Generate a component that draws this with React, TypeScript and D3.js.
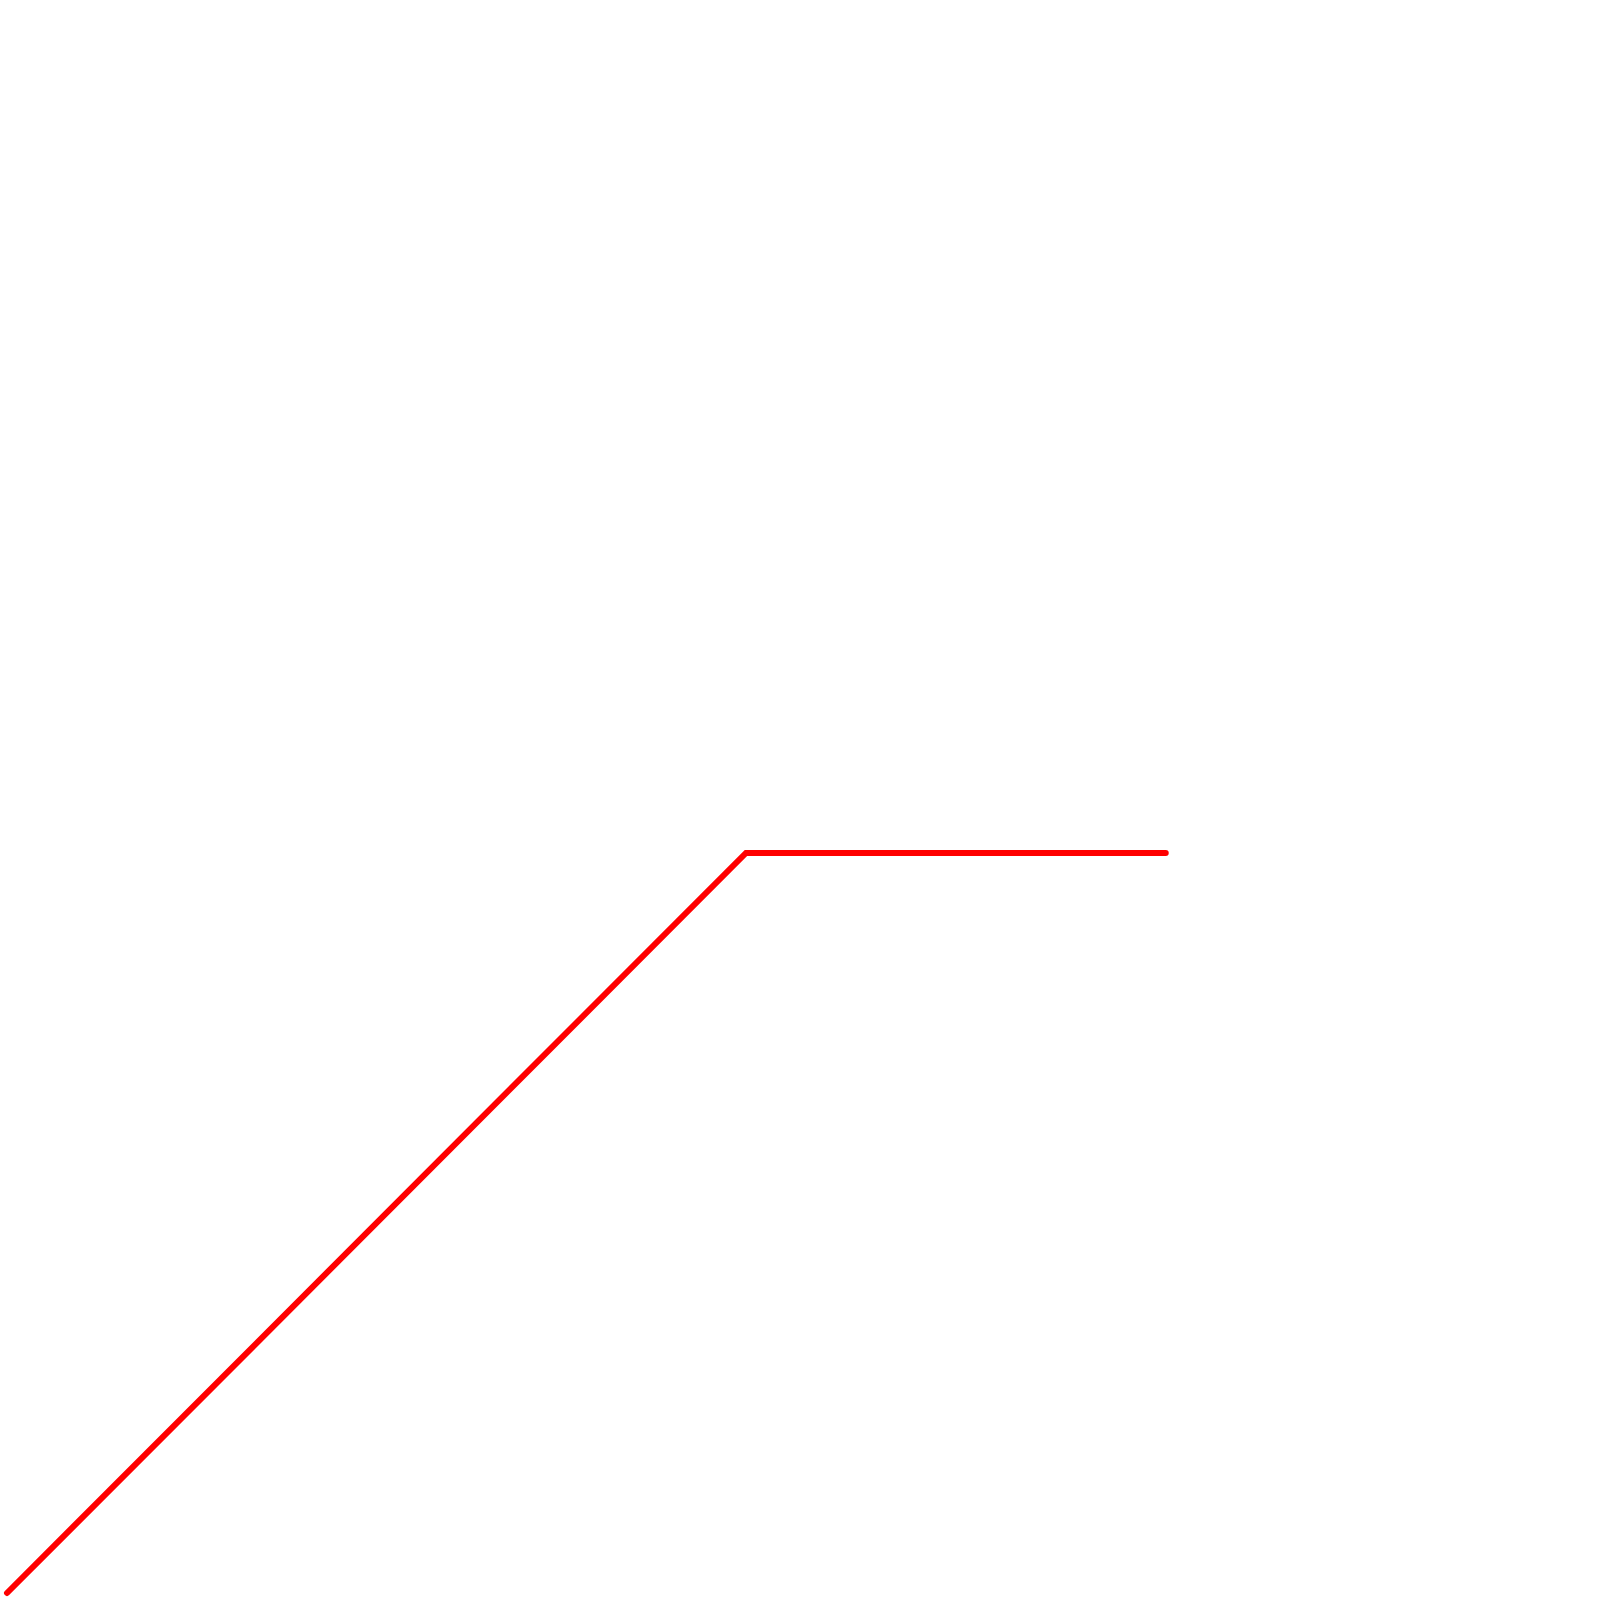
import React from "react";
import * as d3 from "d3";

const xValues = [0, 10, 15.68];
const yValues = [0, 10, 10];

const W = 1600;
const H = 1600;

export default function App() {
  const x = d3.scaleLinear().domain([0, 10]).range([7, 746]);
  const y = d3.scaleLinear().domain([0, 10]).range([1593, 853]);
  const pts: [number, number][] = xValues.map((v, i) => [v, yValues[i]]);
  const line = d3
    .line<[number, number]>()
    .x((d) => x(d[0]))
    .y((d) => y(d[1]));
  return (
    <svg
      width={W}
      height={H}
      style={{ position: "absolute", left: 0, top: 0, display: "block", background: "#fff" }}
    >
      <path
        d={line(pts) || ""}
        fill="none"
        stroke="#ff0000"
        strokeWidth={6}
        strokeLinecap="round"
        strokeLinejoin="miter"
      />
    </svg>
  );
}
